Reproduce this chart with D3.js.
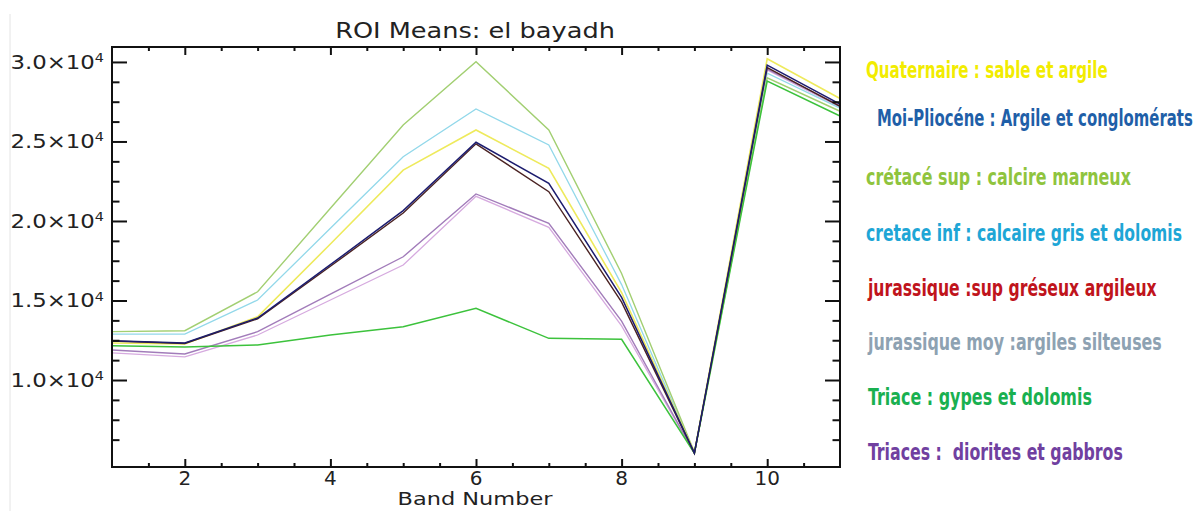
<!DOCTYPE html>
<html>
<head>
<meta charset="utf-8">
<script src="https://cdn.jsdelivr.net/npm/d3@7"></script>
<style>
  html, body { margin: 0; padding: 0; background: #fff; }
  svg { display: block; }
</style>
</head>
<body>
<svg id="chart" width="1200" height="511"></svg>
<script>
// ---------------- data ----------------
const bands = [1, 2, 3, 4, 5, 6, 7, 8, 9, 10, 11];

const quaternaire     = [12330, 12260, 13980, 18550, 23200, 25720, 23310, 15500, 5420, 30200, 27700];
const moiPliocene     = [12470, 12330, 13900, 17250, 20650, 24950, 22370, 15200, 5400, 29800, 27350];
const cretaceSup      = [13040, 13100, 15550, 20800, 26040, 30020, 25720, 16700, 5450, 29000, 26900];
const cretaceInf      = [12890, 12890, 15030, 19540, 24040, 27040, 24780, 16000, 5430, 29300, 27100];
const jurassiqueSup   = [12450, 12300, 13850, 17150, 20500, 24850, 21840, 14900, 5400, 29650, 27200];
const jurassiqueMoy   = [11700, 11450, 12830, 15030, 17230, 21550, 19600, 13400, 5380, 29500, 27150];
const triaceGypes     = [12150, 12080, 12200, 12830, 13350, 14510, 12620, 12560, 5400, 28800, 26600];
const triacesDiorites = [11890, 11640, 13040, 15400, 17750, 21700, 19850, 13700, 5390, 29550, 27250];

const legendLabels = [
  "Quaternaire : sable et argile",
  "Moi-Pliocéne : Argile et conglomérats",
  "crétacé sup : calcire marneux",
  "cretace inf : calcaire gris et dolomis",
  "jurassique :sup gréseux argileux",
  "jurassique moy :argiles silteuses",
  "Triace : gypes et dolomis",
  "Triaces :  diorites et gabbros"
];
const legendColors = ["#f2ec00", "#1f5fa8", "#8fc43e", "#1ea6d6", "#c0141c", "#8ea2b2", "#19b050", "#7040a0"];

const xTickValues = [2, 4, 6, 8, 10];
const yTickValues = [10000, 15000, 20000, 25000, 30000];

const titleText = "ROI Means: el bayadh";
const xTitleText = "Band Number";

// series in drawing order (lighter first, darks on top)
const series = [
  { values: jurassiqueMoy,   color: "#d6aadf", width: 1.3 },
  { values: triacesDiorites, color: "#a27cba", width: 1.4 },
  { values: cretaceInf,      color: "#92d8ea", width: 1.3 },
  { values: cretaceSup,      color: "#a2cf72", width: 1.4 },
  { values: quaternaire,     color: "#eeea5c", width: 1.6 },
  { values: triaceGypes,     color: "#3cc23c", width: 1.5 },
  { values: jurassiqueSup,   color: "#4a2222", width: 1.4 },
  { values: moiPliocene,     color: "#1c1c6e", width: 1.5 }
];

// ---------------- layout ----------------
const svg = d3.select("#chart");
const L = 112, R = 840, T = 47, B = 467;

const x = d3.scaleLinear().domain([1, 11]).range([L, R]);
const y = d3.scaleLinear().domain([4530, 30940]).range([B, T]);

// faint screenshot border line at left
svg.append("line").attr("x1", 10).attr("x2", 10).attr("y1", 14).attr("y2", 511)
  .attr("stroke", "#e4e4e4").attr("stroke-width", 1);

// ---------------- lines ----------------
const line = d3.line().x((d, i) => x(bands[i])).y(d => y(d));
const g = svg.append("g");
series.forEach(s => {
  g.append("path")
    .attr("d", line(s.values))
    .attr("fill", "none")
    .attr("stroke", s.color)
    .attr("stroke-width", s.width)
    .attr("stroke-linejoin", "miter");
});

// ---------------- axes (IDL style) ----------------
const xMinor = d3.range(1.5, 11, 0.5).filter(v => xTickValues.indexOf(v) < 0);
const yMinor = d3.range(6250, 30900, 1250).filter(v => yTickValues.indexOf(v) < 0);

const axisColor = "#111";
const bottomMajor = d3.axisBottom(x).tickValues(xTickValues).tickSize(-8).tickFormat("");
const bottomMinor = d3.axisBottom(x).tickValues(xMinor).tickSize(-4).tickFormat("");
const topMajor = d3.axisTop(x).tickValues(xTickValues).tickSize(-8).tickFormat("");
const topMinor = d3.axisTop(x).tickValues(xMinor).tickSize(-4).tickFormat("");
const leftMajor = d3.axisLeft(y).tickValues(yTickValues).tickSize(-15).tickFormat("");
const leftMinor = d3.axisLeft(y).tickValues(yMinor).tickSize(-7.5).tickFormat("");
const rightMajor = d3.axisRight(y).tickValues(yTickValues).tickSize(-15).tickFormat("");
const rightMinor = d3.axisRight(y).tickValues(yMinor).tickSize(-7.5).tickFormat("");

function addAxis(axis, tx, ty) {
  const a = svg.append("g").attr("transform", `translate(${tx},${ty})`).call(axis);
  a.select(".domain").remove();
  a.selectAll(".tick line").attr("stroke", axisColor).attr("stroke-width", 2);
  return a;
}
addAxis(bottomMajor, 0, B); addAxis(bottomMinor, 0, B);
addAxis(topMajor, 0, T); addAxis(topMinor, 0, T);
addAxis(leftMajor, L, 0); addAxis(leftMinor, L, 0);
addAxis(rightMajor, R, 0); addAxis(rightMinor, R, 0);

// frame
svg.append("rect").attr("x", L).attr("y", T).attr("width", R - L).attr("height", B - T)
  .attr("fill", "none").attr("stroke", axisColor).attr("stroke-width", 2);

const labelFont = "'DejaVu Sans', 'Liberation Sans', sans-serif";

// x tick labels
svg.append("g").selectAll("text").data(xTickValues).join("text")
  .attr("x", d => x(d)).attr("y", 485)
  .attr("text-anchor", "middle")
  .attr("font-family", labelFont).attr("font-size", 20)
  .attr("fill", "#222")
  .text(d => d);

// y tick labels: m.m×10^4
const yl = svg.append("g").selectAll("text").data(yTickValues).join("text")
  .attr("transform", d => `translate(104,${y(d) + 7}) scale(1.2,1)`)
  .attr("text-anchor", "end")
  .attr("font-family", labelFont).attr("font-size", 19)
  .attr("fill", "#222");
yl.append("tspan").text(d => (d / 10000).toFixed(1) + "×10");
yl.append("tspan").attr("dy", -7).attr("font-size", 12).text("4");

// horizontally fitted text helper (scales glyphs to a target width)
function fitText(sel, targetW) {
  sel.each(function (d, i) {
    const node = this;
    const w = node.getComputedTextLength();
    const tw = typeof targetW === "function" ? targetW(d, i) : targetW;
    const sx = w > 0 ? tw / w : 1;
    const base = node.getAttribute("data-t");
    node.setAttribute("transform", base + ` scale(${sx.toFixed(4)},1)`);
  });
}

// title
const title = svg.append("text")
  .attr("data-t", "translate(475,38)")
  .attr("transform", "translate(475,38)")
  .attr("text-anchor", "middle")
  .attr("font-family", labelFont).attr("font-size", 21)
  .attr("fill", "#222")
  .text(titleText);
fitText(title, 280);

// x title
const xt = svg.append("text")
  .attr("data-t", "translate(475,505)")
  .attr("transform", "translate(475,505)")
  .attr("text-anchor", "middle")
  .attr("font-family", labelFont).attr("font-size", 18)
  .attr("fill", "#222")
  .text(xTitleText);
fitText(xt, 155);

// ---------------- legend ----------------
const legendY = [70, 118, 177, 233, 288, 342, 397, 452];
const legendX = [866, 877, 866, 866, 868, 868, 868, 868];
const legendW = [242, 316, 265, 316, 289, 294, 224, 255];

const leg = svg.append("g").selectAll("text").data(legendLabels).join("text")
  .attr("data-t", (d, i) => `translate(${legendX[i]},${legendY[i] + 8})`)
  .attr("transform", (d, i) => `translate(${legendX[i]},${legendY[i] + 8})`)
  .attr("font-family", "'Liberation Sans Narrow', 'DejaVu Sans Condensed', 'Roboto', 'Open Sans', sans-serif")
  .attr("font-weight", "bold")
  .attr("font-size", 23)
  .attr("fill", (d, i) => legendColors[i])
  .attr("xml:space", "preserve")
  .text(d => d);
fitText(leg, (d, i) => legendW[i]);
</script>
</body>
</html>
